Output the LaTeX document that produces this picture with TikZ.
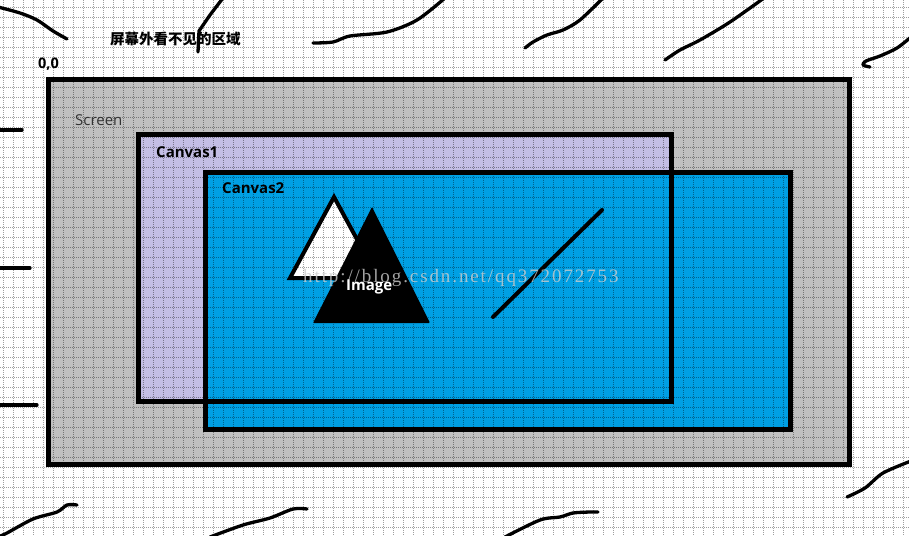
\documentclass[tikz,border=0pt]{standalone}
\usepackage{fontspec}
\setmainfont{Open Sans}
\newfontfamily\cjkfont{Noto Sans CJK SC}
\newfontfamily\markfont[LetterSpace=10]{Liberation Serif}
\usetikzlibrary{positioning}
\definecolor{screenGray}{RGB}{192,192,192}
\definecolor{canvasLilac}{RGB}{196,190,229}
\definecolor{canvasBlue}{RGB}{0,160,228}
\definecolor{labelGray}{RGB}{50,50,50}
\tikzset{
    framebox/.style={
        draw=black,
        line width=5pt,
        line join=miter
    },
    gridline/.style={draw=black, opacity=0.38, line width=0.9pt, dash pattern=on 1pt off 1pt},
    scribble/.style={draw=black, line width=3.3pt, line cap=round, line join=round},
    boldlabel/.style={anchor=west, inner sep=0pt, font=\bfseries\fontsize{15}{17}\selectfont},
    plainlabel/.style={anchor=west, inner sep=0pt, text=labelGray, font=\fontsize{15}{17}\selectfont},
    watermark/.style={anchor=base west, inner sep=0pt, text=white!60!gray, opacity=0.8, font=\markfont\fontsize{19}{20}\selectfont}
}
\begin{document}
\begin{tikzpicture}[x=1pt, y=-1pt]
    % page with margins
    \fill[white] (0,0) rectangle (909,535);
    \useasboundingbox (0,0) rectangle (909,535);

    % corners of the three areas
    \coordinate (screenNW) at (48.5,79.5);
    \coordinate (screenSE) at (849.5,464.5);
    \coordinate (canvasANW) at (138.5,134.5);
    \coordinate (canvasASE) at (671,401.5);
    \coordinate (canvasBNW) at (205.5,172.5);
    \coordinate (canvasBSE) at (790.5,429.5);

    \filldraw[framebox, fill=screenGray] (screenNW) rectangle (screenSE);
    \fill[canvasLilac] (canvasANW) rectangle (canvasASE);
    \filldraw[framebox, fill=canvasBlue] (canvasBNW) rectangle (canvasBSE);
    \draw[framebox] (canvasANW) rectangle (canvasASE);

    % image: two triangles and a line
    \filldraw[draw=black, line width=4pt, fill=white] (334,197) -- (378,278) -- (290,278) -- cycle;
    \fill[black, rounded corners=1pt] (372,207) -- (430,323) -- (313,323) -- cycle;
    \coordinate (lineA) at (493,317);
    \coordinate (lineB) at (602,210);
    \draw[black, line width=4pt, line cap=round] (lineA) -- (lineB);

    % dotted grid over everything
    \foreach \gx in {0,...,90} {
        \draw[gridline] (3+10*\gx,0) -- (3+10*\gx,535);
    }
    \foreach \gy in {0,...,52} {
        \draw[gridline] (0,7+10*\gy) -- (909,7+10*\gy);
    }

    \node[watermark] (mark) at (303,282) {http://blog.csdn.net/qq372072753};

    % texts
    \node[anchor=west, inner sep=0pt, font=\cjkfont\bfseries\fontsize{14.5}{16}\selectfont] (offscreen) at (110,39) {屏幕外看不见的区域};
    \node[boldlabel, font=\bfseries\fontsize{14.5}{16}\selectfont] (origin) at (38,64) {0,0};
    \node[plainlabel] (screen) at (75,120) {Screen};
    \node[boldlabel] (canvasA) at (156,152) {Canvas1};
    \node[boldlabel] (canvasB) at (222,188) {Canvas2};
    \node[boldlabel, text=white] (image) at (346,287) {Image};

    % freehand strokes
    \draw[scribble] plot[smooth] coordinates {(-2,7) (20,13) (37,20) (53,31) (67,39)};
    \draw[scribble] (223,-2) -- (210,15) -- (199,31) -- (198,52);
    \draw[scribble] plot[smooth] coordinates {(313,43) (333,42) (350,36) (387,32) (417,20) (445,-2)};
    \draw[scribble] plot[smooth] coordinates {(525,48) (533,42) (547,35) (563,30) (580,20) (603,-2)};
    \draw[scribble] plot[smooth] coordinates {(665,60) (680,50) (700,40) (730,22) (764,-2)};
    \draw[scribble] plot[smooth] coordinates {(870,67) (863,65) (866,61) (880,56) (897,48) (911,37)};
    \draw[scribble] (-2,130) -- (22,130);
    \draw[scribble] (-2,268) -- (30,268);
    \draw[scribble] (-2,405) -- (37,405);
    \draw[scribble] plot[smooth] coordinates {(-2,537) (7,533) (33,519) (57,512) (67,505) (77,505)};
    \draw[scribble] plot[smooth] coordinates {(210,537) (243,525) (270,518) (293,509) (307,509)};
    \draw[scribble] plot[smooth] coordinates {(505,537) (540,520) (560,517) (573,513) (590,512) (598,512)};
    \draw[scribble] plot[smooth] coordinates {(847,497) (865,488) (883,473) (911,461)};
\end{tikzpicture}
\end{document}
